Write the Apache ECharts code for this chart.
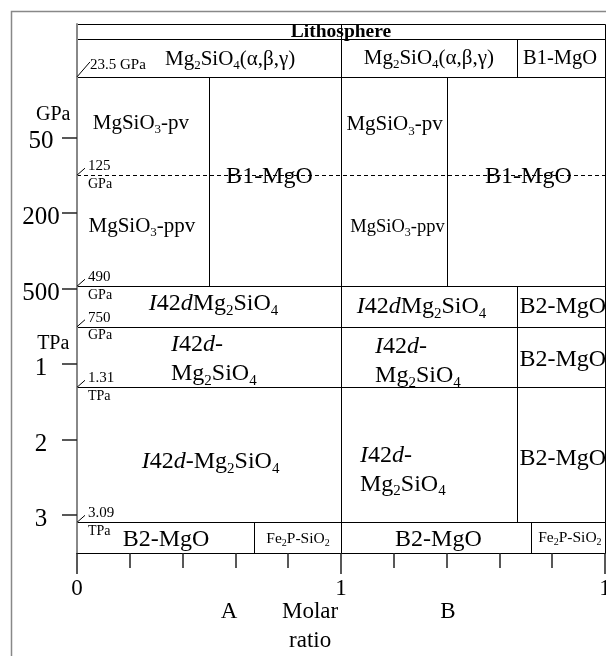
<!DOCTYPE html>
<html><head><meta charset="utf-8">
<script src="https://cdn.jsdelivr.net/npm/echarts@6/dist/echarts.min.js"></script>
<style>html,body{margin:0;padding:0;background:#fff}#c{width:606px;height:656px}</style>
</head><body><div id="c"></div>
<script>
// ---- data ----
const tickValues = [1, 2, 3, 4, 5, 6];
const tickLabels = ['50', '200', '500', '1', '2', '3'];
const unitNames = ['GPa', 'TPa'];
const unitU = [0.70, 3.73];
const compNames = ['A', 'B'];
const compX = [0.576, 1.405];
const axisTitle = 'Molar\nratio';
const xLabels = ['0', '1', '1'];

// phase boundaries (axis position) and their pressures
const boundaryU = [0.2, 1.5, 2.97, 3.506, 4.307, 6.094];
const boundaryValue = ['23.5', '125', '490', '750', '1.31', '3.09'];
const boundaryUnit = ['GPa', 'GPa', 'GPa', 'GPa', 'TPa', 'TPa'];

// phase fields [x0, x1, u0, u1]
const cellRects = [
  [0, 2, -0.5, -0.301],
  [0, 1, -0.301, 0.2], [1, 1.668, -0.301, 0.2], [1.668, 2, -0.301, 0.2],
  [0, 0.5, 0.2, 2.97], [0.5, 1, 0.2, 2.97], [1, 1.4, 0.2, 2.97], [1.4, 2, 0.2, 2.97],
  [0, 1, 2.97, 3.506], [1, 1.668, 2.97, 3.506], [1.668, 2, 2.97, 3.506],
  [0, 1, 3.506, 4.307], [1, 1.668, 3.506, 4.307], [1.668, 2, 3.506, 4.307],
  [0, 1, 4.307, 6.094], [1, 1.668, 4.307, 6.094], [1.668, 2, 4.307, 6.094],
  [0, 0.67, 6.094, 6.5], [0.67, 1, 6.094, 6.5], [1, 1.718, 6.094, 6.5], [1.718, 2, 6.094, 6.5]
];
const dashedU = [1.5];

// phase names and where they sit
const phaseNames = [
  'Lithosphere',
  'Mg_2SiO_4(α,β,γ)', 'Mg_2SiO_4(α,β,γ)', 'B1-MgO',
  'MgSiO_3-pv', 'MgSiO_3-ppv', 'B1-MgO', 'MgSiO_3-pv', 'MgSiO_3-ppv', 'B1-MgO',
  '*I*42*d*Mg_2SiO_4', '*I*42*d*Mg_2SiO_4', 'B2-MgO',
  '*I*42*d*-\nMg_2SiO_4', '*I*42*d*-\nMg_2SiO_4', 'B2-MgO',
  '*I*42*d*-Mg_2SiO_4', '*I*42*d*-\nMg_2SiO_4', 'B2-MgO',
  'B2-MgO', 'Fe_2P-SiO_2', 'B2-MgO', 'Fe_2P-SiO_2'
];
const phaseX = [1, 0.58, 1.333, 1.83, 0.242, 0.246, 0.729, 1.203, 1.214, 1.71,
  0.517, 1.305, 1.84, 0.356, 1.129, 1.84, 0.506, 1.072, 1.84, 0.337, 0.837, 1.369, 1.867];
const phaseU = [-0.4, -0.03, -0.05, -0.04, 0.81, 2.173, 1.525, 0.836, 2.186, 1.525,
  3.205, 3.245, 3.245, 3.94, 3.966, 3.946, 5.296, 5.402, 5.256, 6.328, 6.315, 6.328, 6.3];

// ---- style ----
const FONT = "'Liberation Serif','Times New Roman',serif";
const phaseSize = [19.5, 21, 21, 20.5, 21, 21, 24, 21, 18.5, 24, 24, 24, 24, 24, 24, 24, 24, 24, 24, 24, 15.5, 24, 15.5];
const leftAligned = { 13: 1, 14: 1, 17: 1 };

function richLabel(src) {
  return src.split('\n').map(line => {
    let s = '', buf = '', italic = false;
    const flush = () => { if (buf) { s += '{' + (italic ? 'i' : 'n') + '|' + buf + '}'; buf = ''; } };
    for (let k = 0; k < line.length; k++) {
      const ch = line[k];
      if (ch === '*') { flush(); italic = !italic; }
      else if (ch === '_') { flush(); s += '{s|' + line[k + 1] + '}'; k++; }
      else buf += ch;
    }
    flush();
    return s;
  }).join('\n');
}
function richStyles(size, bold) {
  const L = Math.round(size * 1.22);
  const w = bold ? 'bold' : 'normal';
  return {
    n: { fontSize: size, fontFamily: FONT, fontWeight: w, lineHeight: L, fill: '#000' },
    i: { fontSize: size, fontFamily: FONT, fontStyle: 'italic', lineHeight: L, fill: '#000' },
    s: { fontSize: Math.round(size * 0.64), fontFamily: FONT, lineHeight: L - Math.round(size * 0.5), verticalAlign: 'bottom', fill: '#000' }
  };
}
const crisp = v => Math.round(v) + 0.5;

const chart = echarts.init(document.getElementById('c'), null, { renderer: 'canvas' });
chart.setOption({
  animation: false,
  backgroundColor: '#fff',
  graphic: [{
    type: 'rect', left: 9, top: 9, z: -1,
    shape: { width: 700, height: 700 },
    style: { fill: 'none', stroke: '#888', lineWidth: 1.5 }
  }],
  grid: { left: 77, top: 24, right: 1, bottom: 103, containLabel: false, outerBoundsMode: 'none' },
  xAxis: {
    type: 'value', min: 0, max: 2, interval: 1, z: 3,
    axisLine: { show: true, onZero: false, lineStyle: { color: '#000', width: 1 } },
    axisTick: { show: true, length: 21, lineStyle: { color: '#222', width: 1.5 } },
    minorTick: { show: true, splitNumber: 5, length: 15, lineStyle: { color: '#222', width: 1.5 } },
    splitLine: { show: false }, minorSplitLine: { show: false },
    axisLabel: {
      margin: 24, fontSize: 23, fontFamily: FONT, color: '#000',
      showMinLabel: true, showMaxLabel: true, hideOverlap: false,
      formatter: v => xLabels[Math.round(v)]
    }
  },
  yAxis: {
    type: 'value', min: -0.5, max: 6.5, inverse: true, z: 3,
    axisLine: { show: true, onZero: false, lineStyle: { color: '#888', width: 2 } },
    axisTick: { show: true, length: 15, customValues: tickValues, lineStyle: { color: '#222', width: 1.5 } },
    axisLabel: {
      customValues: tickValues.map(v => v + 0.06), margin: 36, align: 'center',
      fontSize: 25, fontFamily: FONT, color: '#000',
      formatter: v => tickLabels[tickValues.indexOf(Math.round(v))] || ''
    },
    splitLine: { show: false }
  },
  series: [
    {
      type: 'custom', clip: false, z: 2,
      data: cellRects,
      encode: { x: [0, 1], y: [2, 3] },
      renderItem(params, api) {
        const a = api.coord([api.value(0), api.value(2)]);
        const b = api.coord([api.value(1), api.value(3)]);
        const x0 = crisp(a[0]), y0 = crisp(a[1]), x1 = crisp(b[0]), y1 = crisp(b[1]);
        return { type: 'rect', shape: { x: x0, y: y0, width: x1 - x0, height: y1 - y0 },
          style: { fill: 'none', stroke: '#000', lineWidth: 1 } };
      }
    },
    {
      type: 'custom', clip: false, z: 2,
      data: dashedU.map(u => [0, u]),
      renderItem(params, api) {
        const a = api.coord([0, api.value(1)]);
        const b = api.coord([2, api.value(1)]);
        return { type: 'line', shape: { x1: a[0], y1: crisp(a[1]), x2: b[0], y2: crisp(b[1]) },
          style: { stroke: '#000', lineWidth: 1, lineDash: [4, 3] } };
      }
    },
    {
      type: 'custom', clip: false, z: 2,
      data: [[1, 1.5]],
      renderItem(params, api) {
        const a = api.coord([1, -0.5]);
        const b = api.coord([1, 6.5]);
        return { type: 'line', shape: { x1: crisp(a[0]), y1: a[1], x2: crisp(b[0]), y2: b[1] },
          style: { stroke: '#000', lineWidth: 1 } };
      }
    },
    {
      type: 'custom', clip: false, z: 4,
      data: boundaryU.map(u => [0, u]),
      renderItem(params, api) {
        const i = params.dataIndex;
        const p = api.coord([0, api.value(1)]);
        const x = p[0], y = p[1];
        const children = [];
        if (i === 0) {
          children.push({ type: 'line', shape: { x1: x, y1: y, x2: x + 13, y2: y - 15 }, style: { stroke: '#000', lineWidth: 1 } });
          children.push({ type: 'text', x: x + 13, y: y - 12,
            style: { text: boundaryValue[i] + ' ' + boundaryUnit[i], fontSize: 15, fontFamily: FONT, fill: '#000', align: 'left', verticalAlign: 'middle' } });
        } else {
          children.push({ type: 'line', shape: { x1: x, y1: y, x2: x + 8, y2: y - 7 }, style: { stroke: '#000', lineWidth: 1 } });
          children.push({ type: 'text', x: x + 11, y: y - 9,
            style: { text: boundaryValue[i], fontSize: 15, fontFamily: FONT, fill: '#000', align: 'left', verticalAlign: 'middle' } });
          children.push({ type: 'text', x: x + 11, y: y + 9,
            style: { text: boundaryUnit[i], fontSize: 14, fontFamily: FONT, fill: '#000', align: 'left', verticalAlign: 'middle' } });
        }
        return { type: 'group', children };
      }
    },
    {
      type: 'custom', clip: false, z: 5,
      data: phaseNames.map((n, i) => [phaseX[i], phaseU[i]]),
      renderItem(params, api) {
        const i = params.dataIndex;
        const p = api.coord([api.value(0), api.value(1)]);
        return { type: 'text', x: p[0], y: p[1],
          style: { text: richLabel(phaseNames[i]), rich: richStyles(phaseSize[i], i === 0),
            align: leftAligned[i] ? 'left' : 'center', verticalAlign: 'middle', fill: '#000' } };
      }
    },
    {
      type: 'custom', clip: false, z: 5,
      data: unitNames.map((n, i) => [-0.09, unitU[i]]),
      renderItem(params, api) {
        const i = params.dataIndex;
        const p = api.coord([api.value(0), api.value(1)]);
        return { type: 'text', x: p[0], y: p[1],
          style: { text: unitNames[i], fontSize: 20, fontFamily: FONT, fill: '#000', align: 'center', verticalAlign: 'middle' } };
      }
    },
    {
      type: 'custom', clip: false, z: 5,
      data: compNames.map((n, i) => [compX[i], 7.28]).concat([[0.883, 7.473]]),
      renderItem(params, api) {
        const i = params.dataIndex;
        const p = api.coord([api.value(0), api.value(1)]);
        const t = i < compNames.length ? compNames[i] : axisTitle;
        return { type: 'text', x: p[0], y: p[1],
          style: { text: t, fontSize: 23, lineHeight: 29, fontFamily: FONT, fill: '#000', align: 'center', verticalAlign: 'middle' } };
      }
    }
  ]
});
</script>
</body></html>
